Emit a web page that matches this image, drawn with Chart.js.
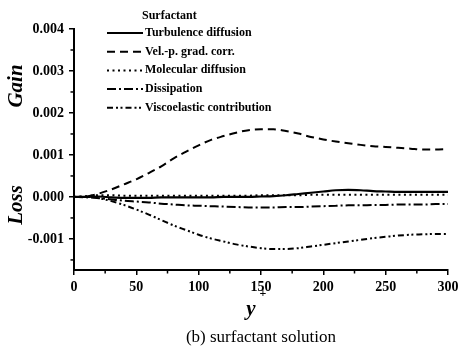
<!DOCTYPE html>
<html>
<head>
<meta charset="utf-8">
<script src="https://cdn.jsdelivr.net/npm/chart.js@4.4.1/dist/chart.umd.min.js"></script>
<style>
  html, body { margin: 0; padding: 0; background: #fff; }
  #wrap { width: 459px; height: 351px; }
</style>
</head>
<body>
<div id="wrap"><canvas id="myChart" width="459" height="351"></canvas></div>
<script>
// y+ positions (wall units)
const yPlus = [0, 10, 20, 30, 40, 50, 60, 70, 80, 90, 100, 110, 120, 130, 140, 150,
  160, 170, 180, 190, 200, 210, 220, 230, 240, 250, 260, 270, 280, 290, 300];

// budget terms //
const turbDiff = [0, 0, 0.00001, -0.00001, -0.00002, -0.00002, -0.00002, -0.00001, -0.00001, -0.00001, -0.00001,
  -0.00001, 0, 0, 0, 0.00001, 0.00002, 0.00004, 0.00007, 0.0001, 0.00013, 0.00016, 0.00017, 0.00016,
  0.00014, 0.00013, 0.00012, 0.00012, 0.00012, 0.00012, 0.00012];
const velPGrad = [0, 0.00001, 0.00008, 0.00018, 0.0003, 0.00042, 0.00057, 0.00073, 0.00092, 0.00108, 0.00123,
  0.00136, 0.00145, 0.00153, 0.00159, 0.00161, 0.00161, 0.00157, 0.00151, 0.00143, 0.00137, 0.00132,
  0.00128, 0.00124, 0.00121, 0.00119, 0.00117, 0.00115, 0.00113, 0.00113, 0.00114];
const molDiff = [0, 0.00002, 0.00004, 0.00004, 0.00003, 0.00003, 0.00003, 0.00003, 0.00003, 0.00003, 0.00003,
  0.00003, 0.00003, 0.00003, 0.00003, 0.00004, 0.00004, 0.00004, 0.00004, 0.00005, 0.00005, 0.00005,
  0.00005, 0.00005, 0.00005, 0.00005, 0.00005, 0.00005, 0.00005, 0.00005, 0.00005];
const dissipation = [0, -0.00001, -0.00003, -0.00006, -0.00009, -0.00011, -0.00013, -0.00016, -0.00018, -0.0002,
  -0.00021, -0.00022, -0.00023, -0.00024, -0.00025, -0.00025, -0.00025, -0.00024, -0.00024, -0.00023,
  -0.00022, -0.00021, -0.0002, -0.0002, -0.00019, -0.00019, -0.00018, -0.00018, -0.00018, -0.00017, -0.00017];
const viscoelastic = [0, 0, -0.00003, -0.0001, -0.00019, -0.0003, -0.00042, -0.00055, -0.00068, -0.00079, -0.0009,
  -0.00099, -0.00106, -0.00113, -0.00118, -0.00122, -0.00124, -0.00124, -0.00122, -0.00118, -0.00114,
  -0.0011, -0.00106, -0.00102, -0.00098, -0.00095, -0.00092, -0.0009, -0.00089, -0.00088, -0.00088];

const seriesNames = ["Turbulence diffusion", "Vel.-p. grad. corr.", "Molecular diffusion", "Dissipation", "Viscoelastic contribution"];

// tick labels //
const xTicks = [0, 50, 100, 150, 200, 250, 300];
const xMinor = [25, 75, 125, 175, 225, 275];
const yTicks = [-0.001, 0, 0.001, 0.002, 0.003, 0.004];
const yMinor = [-0.0015, -0.0005, 0.0005, 0.0015, 0.0025, 0.0035];

const serif = "'Liberation Serif', 'Times New Roman', serif";
const dashes = [[], [8, 5], [2, 3.5], [9, 3, 2, 3], [6, 3, 2, 2.5, 2, 3]];

function mk(label, values, i) {
  return {
    label: label,
    data: yPlus.map((x, k) => ({ x: x, y: values[k] })),
    borderColor: "#000",
    borderWidth: i === 0 ? 2.2 : 2,
    borderDash: dashes[i],
    pointRadius: 0,
    fill: false,
    cubicInterpolationMode: "monotone"
  };
}

// legend, minor ticks and extra labels //
const extras = {
  id: "extras",
  afterDraw(chart) {
    const ctx = chart.ctx;
    const xs = chart.scales.x, ys = chart.scales.y;
    ctx.save();
    ctx.strokeStyle = "#000";
    ctx.lineWidth = 1.5;
    xMinor.forEach(v => {
      const p = xs.getPixelForValue(v);
      ctx.beginPath(); ctx.moveTo(p, ys.bottom); ctx.lineTo(p, ys.bottom + 3.5); ctx.stroke();
    });
    yMinor.forEach(v => {
      const p = ys.getPixelForValue(v);
      ctx.beginPath(); ctx.moveTo(xs.left, p); ctx.lineTo(xs.left - 3.5, p); ctx.stroke();
    });

    // legend
    ctx.fillStyle = "#000";
    ctx.textBaseline = "middle";
    ctx.textAlign = "left";
    ctx.font = "bold 12px " + serif;
    ctx.fillText("Surfactant", 142, 16);
    chart.data.datasets.forEach((ds, i) => {
      const y = 33 + i * 18.7;
      ctx.setLineDash(ds.borderDash);
      ctx.lineWidth = 2;
      ctx.beginPath(); ctx.moveTo(107, y); ctx.lineTo(143, y); ctx.stroke();
      ctx.setLineDash([]);
      ctx.fillText(ds.label, 145, y);
    });

    // Gain / Loss
    ctx.font = "italic bold 21px " + serif;
    ctx.textAlign = "center";
    [["Gain", 86], ["Loss", 205]].forEach(([t, y]) => {
      ctx.save();
      ctx.translate(17, y);
      ctx.rotate(-Math.PI / 2);
      ctx.fillText(t, 0, 0);
      ctx.restore();
    });

    // y+ label
    ctx.font = "italic bold 21px " + serif;
    ctx.fillText("y", 251, 310);
    ctx.font = "bold 12px " + serif;
    ctx.fillText("+", 263, 294);

    // caption
    ctx.font = "17px " + serif;
    ctx.fillText("(b) surfactant solution", 261, 338);
    ctx.restore();
  }
};

new Chart("myChart", {
  type: "line",
  data: {
    datasets: [
      mk(seriesNames[0], turbDiff, 0),
      mk(seriesNames[1], velPGrad, 1),
      mk(seriesNames[2], molDiff, 2),
      mk(seriesNames[3], dissipation, 3),
      mk(seriesNames[4], viscoelastic, 4)
    ]
  },
  options: {
    responsive: false,
    animation: false,
    layout: { padding: { left: 0, right: 11, top: 29, bottom: 0 } },
    plugins: { legend: { display: false }, tooltip: { enabled: false } },
    scales: {
      x: {
        type: "linear",
        min: 0,
        max: 300,
        afterBuildTicks: s => { s.ticks = xTicks.map(v => ({ value: v })); },
        afterFit: s => { s.height = 81; s.paddingLeft = 0; s.paddingRight = 0; },
        border: { display: true, color: "#000", width: 2 },
        grid: { display: true, drawOnChartArea: false, drawTicks: true, tickLength: 5, color: "#000", lineWidth: 1.5 },
        ticks: { color: "#000", padding: 4, maxRotation: 0, font: { family: serif, size: 14, weight: "bold" } }
      },
      y: {
        type: "linear",
        min: -0.00174,
        max: 0.004,
        afterBuildTicks: s => { s.ticks = yTicks.map(v => ({ value: v })); },
        afterFit: s => { s.width = 74; s.paddingTop = 0; s.paddingBottom = 0; },
        border: { display: true, color: "#000", width: 2 },
        grid: { display: true, drawOnChartArea: false, drawTicks: true, tickLength: 5, color: "#000", lineWidth: 1.5 },
        ticks: {
          color: "#000", padding: 5,
          font: { family: serif, size: 14, weight: "bold" },
          callback: v => v.toFixed(3)
        }
      }
    }
  },
  plugins: [extras]
});
</script>
</body>
</html>
